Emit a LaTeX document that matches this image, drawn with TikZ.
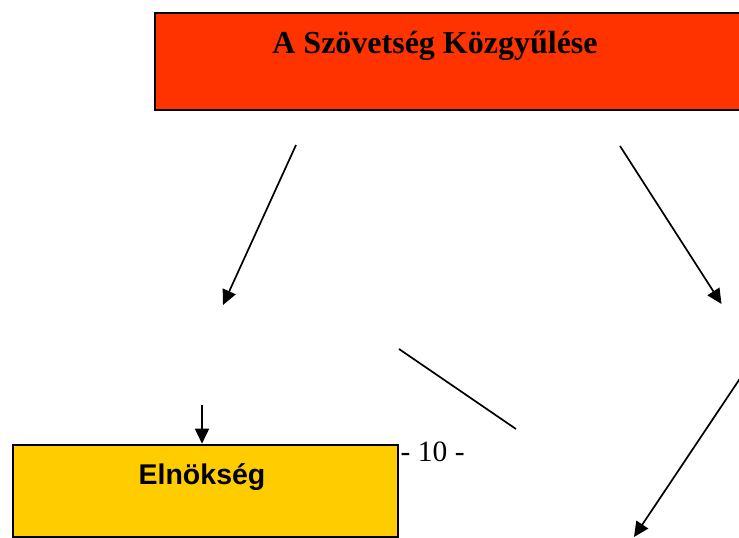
\documentclass[tikz,border=0pt]{standalone}
\usepackage{fontspec}
\setmainfont{Liberation Serif}
\setsansfont{Liberation Sans}
\usetikzlibrary{arrows.meta}
\definecolor{kozgyulesred}{HTML}{FF3300}
\definecolor{elnoksegyellow}{HTML}{FFCC00}

\begin{document}
\begin{tikzpicture}[x=1pt,y=-1pt]
% Styles
\tikzstyle{orgbox} = [rectangle, draw=black, line width=2pt, inner sep=0pt]
\tikzstyle{arrow} = [line width=1.7pt, -{Triangle[length=15pt,width=14pt]}]
\tikzstyle{line} = [line width=1.7pt]

\useasboundingbox (0,0) rectangle (739,538);
\clip (0,0) rectangle (739,538);

\node (kozgyules) [orgbox, fill=kozgyulesred, minimum width=620pt, minimum height=97.5pt] at (465,61.25) {};
\node (kozgyules_text) [anchor=base, inner sep=0pt] at (435,53) {\fontsize{32}{38}\selectfont\bfseries A Szövetség Közgyűlése};
\node (elnokseg) [orgbox, fill=elnoksegyellow, minimum width=385pt, minimum height=92pt] at (205.5,490.7) {};
\node (elnokseg_text) [anchor=base, inner sep=0pt] at (202,484) {\fontsize{28.5}{34}\selectfont\sffamily\bfseries Elnökség};
\node (oldalszam) [anchor=base west, inner sep=0pt] at (400.5,461) {\fontsize{29.5}{35}\selectfont - 10 -};

% free ends of the connectors
\coordinate (bal_felso) at (296,145);
\coordinate (bal_also) at (223,305);
\coordinate (jobb_felso) at (620,146);
\coordinate (jobb_also) at (721.5,304);
\coordinate (kozep_felso) at (399,349);
\coordinate (kozep_also) at (516,429);
\coordinate (szel_felso) at (745,371);
\coordinate (szel_also) at (634,537);
\coordinate (elnokseg_felett) at (202,405);

\draw [arrow] (bal_felso) -- (bal_also);
\draw [arrow] (jobb_felso) -- (jobb_also);
\draw [line] (kozep_felso) -- (kozep_also);
\draw [arrow] (szel_felso) -- (szel_also);
\draw [arrow] (elnokseg_felett) -- (elnokseg_felett |- elnokseg.north);

\end{tikzpicture}
\end{document}
